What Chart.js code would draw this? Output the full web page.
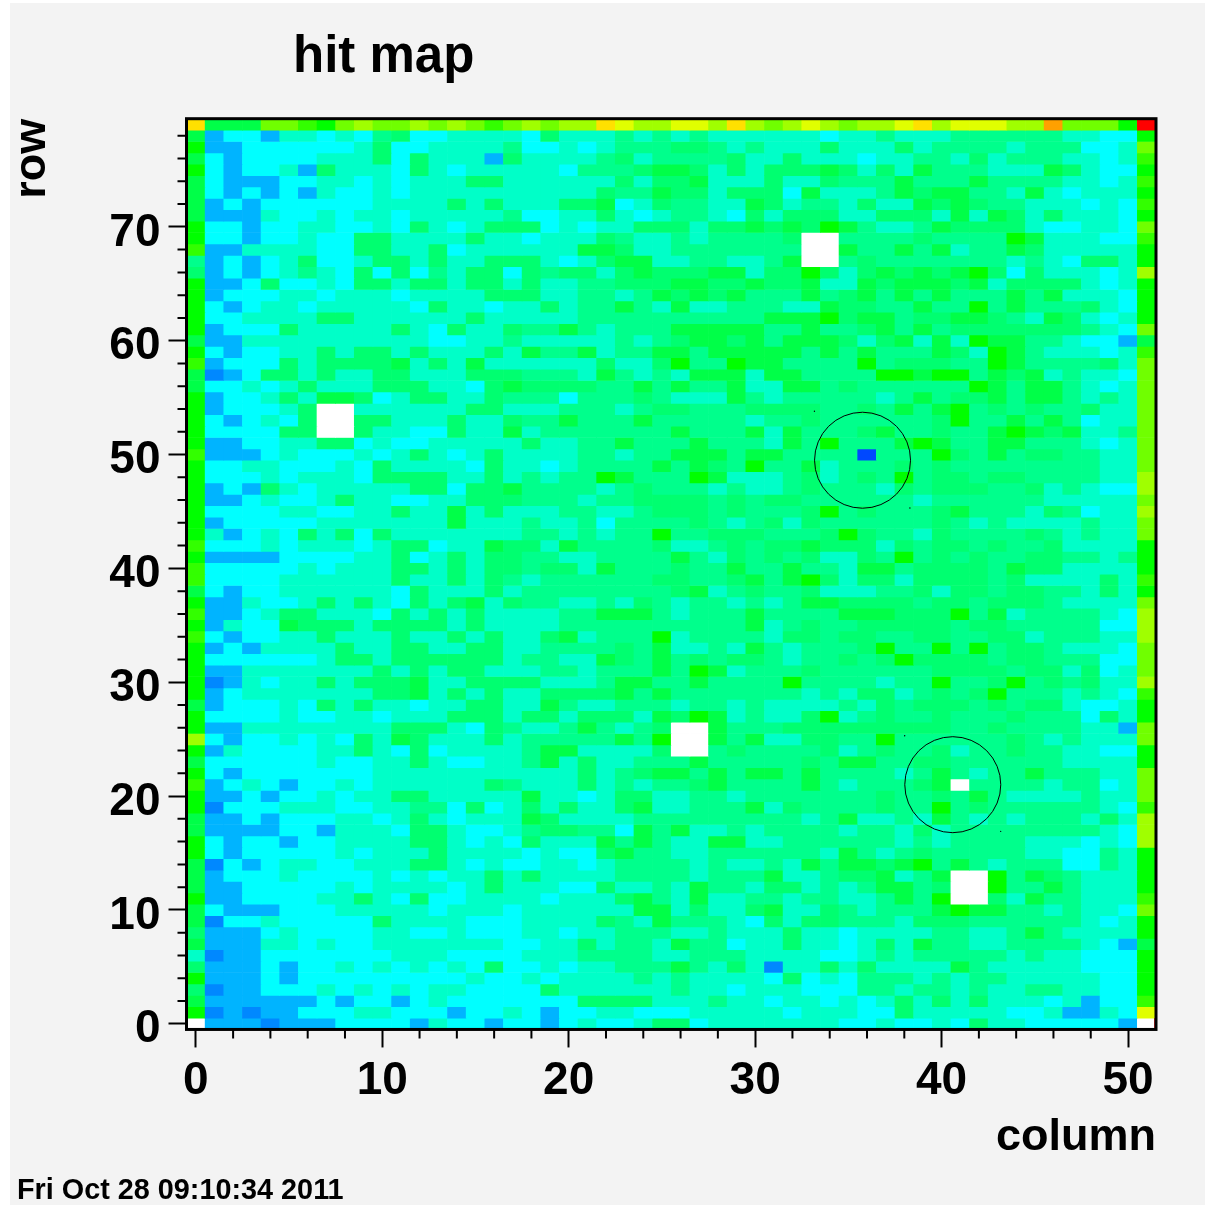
<!DOCTYPE html>
<html lang="en">
<head>
    <meta charset="UTF-8">
    <title>hit map</title>
    <style>
        html, body { margin: 0; background: #fff; }
        canvas { display: block; }
    </style>
</head>
<body>
    <canvas id="hitMap" width="1205" height="1206"></canvas>

    <script src="https://cdn.jsdelivr.net/npm/chart.js"></script>
    <script>
        // colour level of every pixel. first line is row 79, last is row 0
        // '.' = no hits
        const hitRows = [
            'nhhhkkjikl kklklkjklk llnmllmmln lklmlkllmn lmmmllokkk ip',
            'hcddceeded fgddeeeedg eeefefefee eeeedeefee effffffeed di',
            'iccdddddde gddeeeefdd edefffggfe feeegeeege ffffefffdd ek',
            'hdcddddeee gdgeeecgee eefgeffffg eegeeedeef fegefffeed ej',
            'idcddecgee edgedeeeee dfffghhgeg eggghgegeh fffeeehged di',
            'hdcccddeed edeeeggeee eeegegghee egeegfffhf ffhffffeed ej',
            'hdcdcdcedd edeeeeeeee eegffhggeg ggdheeefhg hhffehedee ei',
            'hcdcdddddd eeeegegeee gghdegffee hgeffegeeh ghgffeeede dj',
            'hccceddede edeeeeefdd eegedeffed gegggeeggg ehehgegeee di',
            'iddcddeedd edgedegggd edeegggegg hghgihfeef hggggeddee dk',
            'iddcddeddg geeeegeede eegfeefeff ffg..ffffg ffffiheeed dj',
            'jcceeeeddg geegdeeeee ehhgeeffff fff..hffhf heffhgeeee ei',
            'fcdcdegdde ggegeeggge deghheeffe efh..fgfff ffffefedgg ei',
            'gcdcdefedg dgdfeggdgf ggeghggghh eggigeghgh ghigdgeeed el',
            'iccdgddedg geggeggege effggghhgg hggheehghh hghegggged ei',
            'icdddeedee edeeeeggge effefhghgh fffhfghfhf hfffhfheee di',
            'idcdeedeee eedgeedeeg effhfeheef ffeehggffh ffifhfffge di',
            'iddeeeegge eeeeegeeee efffffffff fhhhighhfg ghhgfehged ei',
            'icdddgeeee egedgeegff hfefffhhhh hffhffghfh fgggggggfe dk',
            'hcceeeeeee eeeddeefee eeefefghhg hfhhhgeghe heihhffedd ch',
            'idcddeegeg gegeeegehf fheffhhfhh hhhfhfhfff hgeihfeeed ej',
            'jcdddgeggg ghegeheeee eegeegiffi hhffffifgg gffihffffg ek',
            'hbcdggegee ggeeegggff fehfefehhh ehhffffiih iifhghefee dk',
            'hddedegeee gggeedghgg ggffhfhffh eehhfgffff ffihfhhfed ek',
            'icddegehhg deggeegfff dfffgfeeeh fefffffefh fgghfhhfef ek',
            'icdddeg..e eeeeeggeee fffefggfff ggggffgfhf hifgfgffge ek',
            'idcdedg..g geeegeegff hfffhfffff effgffffff giffhfhfde ek',
            'iddddgg..g eeddgeehef ffffffhfff hehfffghff gffhihghee fk',
            'iccddeeggd eddeeeeege effhfffhff fehfifffhi hffhhfffed ek',
            'jcccdeddde degedegeee effeffhhhf hhffffafff igfhfggffe ek',
            'iddeeddded geeeedgeed effffhfhgf iffhefffgf gffffffffe ek',
            'idddedeeed ggggeegefe ffihfffihe eefgefgfif ggfggffffe el',
            'icdcgedeee eeggdgghff ffefgfffef eefgfffegf gggffgefed dl',
            'iccdeddege eddeegggff feffggggfg fggffffffe ffffffeeee ek',
            'iddddeedde egeehegeee ffeefgggfg fffgifgfff ghfffegfde el',
            'icdddddeee eeeeheeefe efdffffgfe fgegffffff gfefeeeefe ek',
            'iecdedgegd geeeeeeeff efeffiffgg gfffgigffe gffffgfefe ek',
            'jdddedeeed eggdeehgge hffffgeefg fgghgggegf ggfgffgeee ei',
            'iccccdddde egdegeggff eeffffhfeg fgfgeegfif gfgffggffe fi',
            'jdddddedee eggegeggfg gehfffgffh ffhffehhfg gggfhggeee ei',
            'jddddeeeee egeegegfef fffffggffg hfhigeggeg gggfgeeeeg ej',
            'hdcddeeeee edgeeegeff ffffffghef gffgeeeffg eggfggffeg ei',
            'icceddegeg edgeghegff eefegfeffe fefhhggggf ggfgggfeee ek',
            'jccdeggeee dgegegeeee ffhhhfefff hffffhhhgg gifheffffe dl',
            'iceddhggge ggggegeeee ffffffffff hefgffgggg gfggfffffd dl',
            'jdcddeegee egeegegeeg hefffiefff feggfggffg gffggefffe el',
            'icdceeeege eggeeggeef fffgfheefe hfefffgiff ififggfeee dk',
            'iddddddegg eggggggeff eehgfhfgfg gfeffgfgig gggfggfffd dk',
            'icceeeeeee gegeggeeef fefffhfihe fffgffffff ggggfggegd ek',
            'ibcedeegeg ggheegggge eefhhffhff ffiffffeff iffgifgfge el',
            'icdeeeeeee gghegegeeg ggghfhffff fffefeggef gfgifffefe dj',
            'hcdddedgeg eedeeggeeh feefffeffe feeeefegfg ggfgfggedd ei',
            'iddddeddee deeegggegg egggehgihe feegiefgff gfffgfffdg ei',
            'icceeeeeee egggedgfee fhfefg..hf ffgggggggg gffgffffee ck',
            'ldcddededg ehgeeegeff fffhfi..hf heeggffiff ffffgfefee ek',
            'iceddddeeg edgdeeeefh heeeeg..fg ffffgefgff geffgffeed di',
            'hddddddedd eegeddeefh egeefffhff fffgfhhffg gffffffeee ei',
            'idcddddddd eeeeeeeeee egefghhfhf hhfhffffef hfeffhfffe ek',
            'jcdedcdded eeeeeegfee egefeffghf fffhfefffg h.ffffeffd ek',
            'iccdcddede eggeeeeehe edeggeeffe fffffffgff gfhfeeeefe ek',
            'ibdddeeedd eeffdgdege geegheefff hegffffgff ifgffffffe dj',
            'hccdcdddee degedeeehg eeeeffffff fffefheefe hfefefffeg el',
            'hccccddcee edggeddefg gffdhfheef effffeffeg effffffffe dl',
            'idcddcddee eeggededge eehfhfeehh eeffffffef effffeeede dl',
            'idcddddded eeegeeeede ddghffeeff ffffehfefg fffffeeddf ei',
            'hbdcdeedde eeggededde edeffffefe efehfhhghi fhfefffddf ei',
            'hcdddedddd ededeegege eeeffffeff fheefgghef h..ifhgfee ei',
            'hccddddded eeeedegeee ddgeefehff eggefefhhf g..iffhfee ei',
            'iccddddeeg edgddeeeed eeeghfehee ffeffeefhf i..gehffee ej',
            'hdcccdddee eeedeeedee eeeehhegee gheegfefff hihhffefee dk',
            'hbddeddddd geeeedddee eegfehfffe dgeggfffeg ggffffffed ei',
            'gcccdedddd eeddedddee deefffeefe eegeedeeee ffeefhfeee ei',
            'hccceededd eeeeeeedde egeffehffd eegeedegeh ffeeffffed ch',
            'ebccdddddd deeeddddee effffeefff eeeeddefef ffffefeedd di',
            'gcccdcdded edededgdde deefffhfeg ebeegegeee ehfeeeeedd di',
            'icccdcdddd dddddedded eeeefefeee edgdedfffe feffeeeeed di',
            'gbccdddede dedeeddddg eeeeeefeed eeedddffef fefeeffeed di',
            'hccccccdcd dcdedddddd dggggeeefe edeededege gegeeedecd dj',
            'ibcbccddde edddcddedc ddeedddeee eedeeeddge eeeeddecce dm',
            '.cccbcccdd ddceddcddc deddeggdee eeeeeddedd edgeeddddd c.'
        ];

        const levelColors = {
            '.': '#ffffff', a: '#0048ff', b: '#0088ff', c: '#00b4ff', d: '#00ffff',
            e: '#00ffc8', f: '#00ff8c', g: '#00ff70', h: '#00ff48', i: '#00ff00',
            j: '#33ff00', k: '#70ff00', l: '#a0ff00', m: '#e0ff00', n: '#ffe000',
            o: '#ffa000', p: '#ff0000'
        };

        const columnTicks = [0, 10, 20, 30, 40, 50];
        const rowTicks = [0, 10, 20, 30, 40, 50, 60, 70];
        const circleColumns = [35.76, 40.6];
        const circleRows = [49.5, 21.0];
        const dotColumns = [33.18, 38.3, 38.02, 43.17];
        const dotRows = [53.8, 45.3, 25.3, 16.9];
        // thin red edge on the two empty corner cells
        const edgeColumns = [-0.5, 0.5, null, 50.5, 51.42, 51.42];
        const edgeRows = [-0.42, -0.42, null, -0.42, -0.42, 0.5];

        const FONT = '"Liberation Sans", Arial, sans-serif';

        const cellDatasets = hitRows.map((line, i) => {
            const row = hitRows.length - 1 - i;
            const codes = line.replace(/ /g, '').split('');
            return {
                type: 'bar',
                order: 3,
                data: codes.map((c, col) => ({ x: col, y: [row - 0.5, row + 0.5] })),
                backgroundColor: codes.map(c => levelColors[c]),
                borderWidth: 0,
                barPercentage: 1,
                categoryPercentage: 1,
                grouped: false
            };
        });

        const pageAndFrame = {
            id: 'pageAndFrame',
            afterLayout(chart) {
                chart.titleBlock.left = 293; // title sits off to the left of centre
            },
            beforeDraw(chart) {
                const ctx = chart.ctx;
                ctx.fillStyle = '#f3f3f3';
                ctx.fillRect(10, 3, 1195, 1202);
            },
            afterDraw(chart) {
                const { ctx, chartArea: a, scales } = chart;
                ctx.save();
                ctx.strokeStyle = '#000';
                ctx.lineWidth = 2;
                // minor ticks every 2 bins
                ctx.beginPath();
                for (let v = 2; v < 52; v += 2) {
                    if (v % 10 === 0) continue;
                    const px = scales.x.getPixelForValue(v);
                    ctx.moveTo(px, a.bottom);
                    ctx.lineTo(px, a.bottom + 9);
                }
                for (let v = 2; v < 80; v += 2) {
                    if (v % 10 === 0) continue;
                    const py = scales.y.getPixelForValue(v);
                    ctx.moveTo(a.left, py);
                    ctx.lineTo(a.left - 9, py);
                }
                ctx.stroke();
                ctx.lineWidth = 3;
                ctx.strokeRect(a.left, a.top, a.right - a.left, a.bottom - a.top);
                ctx.restore();
            }
        };

        new Chart(document.getElementById('hitMap'), {
            type: 'bar',
            data: {
                datasets: [
                    {
                        type: 'scatter',
                        order: 0,
                        data: circleColumns.map((x, i) => ({ x: x, y: circleRows[i] })),
                        pointRadius: 48,
                        pointBackgroundColor: 'transparent',
                        pointBorderColor: '#000',
                        pointBorderWidth: 1
                    },
                    {
                        type: 'scatter',
                        order: 1,
                        data: dotColumns.map((x, i) => ({ x: x, y: dotRows[i] })),
                        pointRadius: 0.7,
                        pointBackgroundColor: '#000',
                        pointBorderWidth: 0
                    },
                    {
                        type: 'line',
                        order: 2,
                        data: edgeColumns.map((x, i) => ({ x: x, y: edgeRows[i] })),
                        borderColor: '#e03030',
                        borderWidth: 1,
                        pointRadius: 0,
                        spanGaps: false
                    },
                    ...cellDatasets
                ]
            },
            options: {
                responsive: false,
                animation: false,
                events: [],
                layout: { padding: { left: 17, right: 44, top: 0, bottom: 0 } },
                plugins: {
                    legend: { display: false },
                    tooltip: { enabled: false },
                    title: {
                        display: true,
                        text: 'hit map',
                        align: 'start',
                        color: '#000',
                        font: { family: FONT, size: 51, weight: 'bold', lineHeight: 1.2 },
                        padding: { top: 27, bottom: 30.5 }
                    },
                    subtitle: {
                        display: true,
                        text: 'Fri Oct 28 09:10:34 2011',
                        position: 'bottom',
                        align: 'start',
                        color: '#000',
                        font: { family: FONT, size: 28.8, weight: 'bold', lineHeight: 1 },
                        padding: { top: 0, bottom: 1 }
                    }
                },
                scales: {
                    x: {
                        type: 'linear',
                        min: -0.5,
                        max: 51.5,
                        offset: false,
                        afterBuildTicks(s) { s.ticks = columnTicks.map(v => ({ value: v })); },
                        afterFit(s) { s.height = 146.75; },
                        ticks: {
                            color: '#000',
                            padding: 6,
                            autoSkip: false,
                            maxRotation: 0,
                            font: { family: FONT, size: 46, weight: 'bold' }
                        },
                        grid: { offset: false, drawOnChartArea: false, tickLength: 18, tickColor: '#000', tickWidth: 2 },
                        border: { display: false },
                        title: {
                            display: true,
                            text: 'column',
                            align: 'end',
                            color: '#000',
                            font: { family: FONT, size: 45, weight: 'bold', lineHeight: 1.2 },
                            padding: { top: 0, bottom: 11.75 }
                        }
                    },
                    y: {
                        type: 'linear',
                        min: -0.5,
                        max: 79.5,
                        afterBuildTicks(s) { s.ticks = rowTicks.map(v => ({ value: v })); },
                        afterFit(s) { s.width = 169.5; },
                        ticks: {
                            color: '#000',
                            padding: 8,
                            labelOffset: 6,
                            autoSkip: false,
                            font: { family: FONT, size: 46, weight: 'bold' }
                        },
                        grid: { drawOnChartArea: false, tickLength: 18, tickColor: '#000', tickWidth: 2 },
                        border: { display: false },
                        title: {
                            display: true,
                            text: 'row',
                            align: 'end',
                            color: '#000',
                            font: { family: FONT, size: 45, weight: 'bold', lineHeight: 0.6 },
                            padding: { top: 2, bottom: 0 }
                        }
                    }
                }
            },
            plugins: [pageAndFrame]
        });
    </script>
</body>
</html>
